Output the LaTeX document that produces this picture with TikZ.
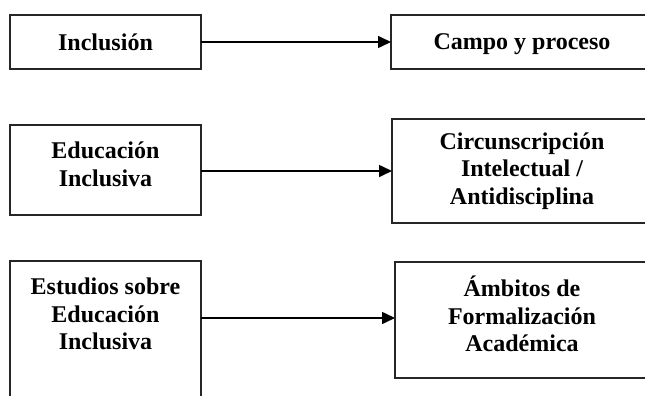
\documentclass[tikz,border=0pt]{standalone}
\usepackage{fontspec}
\setmainfont{Liberation Serif}
\usetikzlibrary{arrows.meta}
\tikzset{
  box/.style={draw=black!85, line width=1.4pt, rectangle, inner sep=0pt, outer sep=0pt},
  lbl/.style={font=\fontsize{24}{27.6}\selectfont\bfseries, align=center, inner sep=0pt},
  conn/.style={line width=1.6pt, -{Triangle[length=13pt,width=12pt]}}
}
\begin{document}
\begin{tikzpicture}[x=1pt,y=-1pt]
\useasboundingbox (0,0) rectangle (645,396);
\clip (0,0) rectangle (645,396);
% left boxes
\node[box, minimum width=191pt, minimum height=54pt] (L1) at (105.5,42) {};
\node[box, minimum width=191pt, minimum height=90pt] (L2) at (105.5,170) {};
\node[box, minimum width=191pt, minimum height=149pt] (L3) at (105.5,335.5) {};
% right boxes
\node[box, minimum width=262pt, minimum height=54pt] (R1) at (522,42) {};
\node[box, minimum width=261pt, minimum height=104pt] (R2) at (522.5,171) {};
\node[box, minimum width=258pt, minimum height=116pt] (R3) at (524,320) {};
% labels
\node[lbl] (T1) at (105.5,42) {Inclusión};
\node[lbl] (T2) at (105.5,164.5) {Educación\\Inclusiva};
\node[lbl] (T3) at (105.5,314) {Estudios sobre\\Educación\\Inclusiva};
\node[lbl] (U1) at (522,44) {Campo y proceso};
\node[lbl] (U2) at (522,171) {Circunscripción\\Intelectual /\\Antidisciplina};
\node[lbl] (U3) at (522,314) {Ámbitos de\\Formalización\\Académica};
% connectors
\coordinate (a3) at (0,318);
\draw[conn] (L1.east) -- (R1.west);
\draw[conn] (L2.east |- R2.west) -- (R2.west);
\draw[conn] (L3.east |- a3) -- (R3.west |- a3);
\end{tikzpicture}
\end{document}
